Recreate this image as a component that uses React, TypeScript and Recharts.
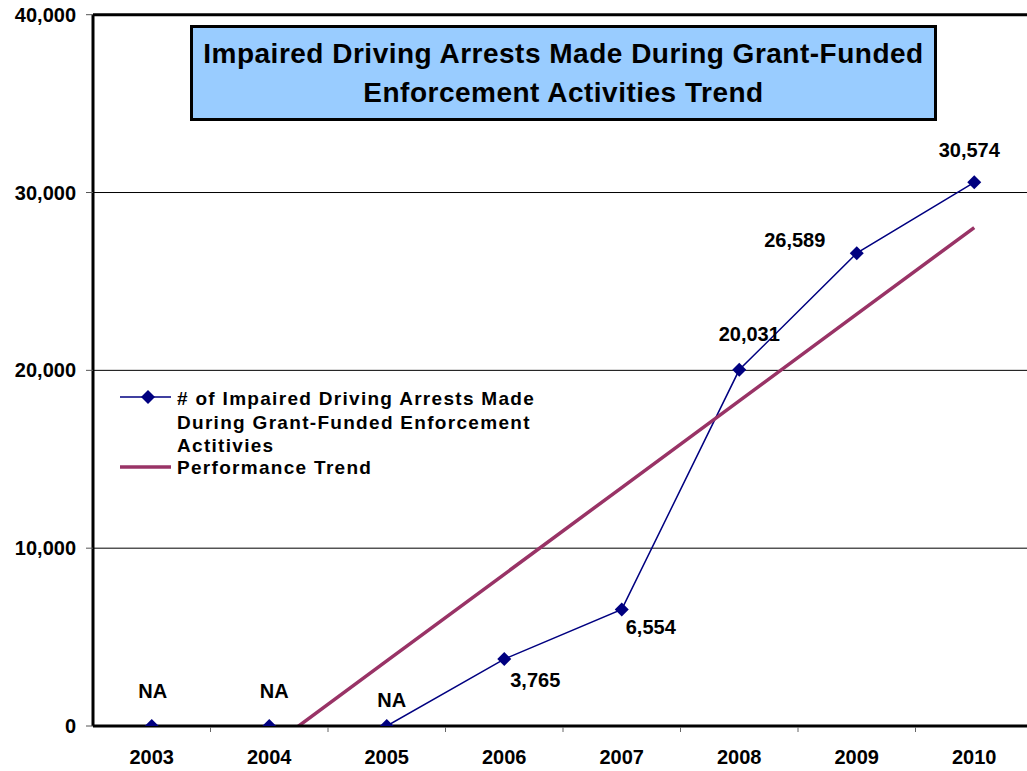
import {
  LineChart,
  Line,
  XAxis,
  YAxis,
  CartesianGrid,
  ReferenceLine,
  Legend,
  LabelList,
} from 'recharts';

const years = ['2003', '2004', '2005', '2006', '2007', '2008', '2009', '2010'];
const arrests = [0, 0, 0, 3765, 6554, 20031, 26589, 30574];
const reported = [false, false, false, true, true, true, true, true];
const trend = [-6100, -1220, 3660, 8530, 13410, 18280, 23160, 28030];
const yTicks = [0, 10000, 20000, 30000, 40000];

const titleLines = [
  'Impaired Driving Arrests Made During Grant-Funded',
  'Enforcement Activities Trend',
];
const arrestsName = [
  '# of Impaired Driving Arrests Made',
  'During Grant-Funded Enforcement',
  'Actitivies',
];
const trendName = 'Performance Trend';

// where each point label sits relative to its marker (text baseline)
const LABEL_OFFSETS = [
  { dx: 1, dy: -28 },
  { dx: 5, dy: -28 },
  { dx: 5, dy: -19 },
  { dx: 31, dy: 28 },
  { dx: 29, dy: 25 },
  { dx: 10, dy: -29 },
  { dx: -62, dy: -6 },
  { dx: -5, dy: -25 },
];

const FONT = '"Liberation Sans", Arial, sans-serif';
const NAVY = '#000080';
const PLUM = '#993366';
const HALF_BAND = 58.75;

const fmt = (n: number) => n.toLocaleString('en-US');

const data = years.map((year, i) => ({
  year,
  arrests: arrests[i],
  trend: trend[i],
  label: reported[i] ? fmt(arrests[i]) : 'NA',
}));

function Diamond(props: any) {
  const { cx, cy, index } = props;
  if (cx == null || cy == null) return null;
  const r = 7;
  return (
    <polygon
      key={`d-${index}`}
      points={`${cx},${cy - r} ${cx + r},${cy} ${cx},${cy + r} ${cx - r},${cy}`}
      fill={NAVY}
    />
  );
}

function PointLabel(props: any) {
  const { x, y, value, index } = props;
  const off = LABEL_OFFSETS[index] || { dx: 0, dy: -20 };
  return (
    <text
      x={x + off.dx}
      y={y + off.dy}
      textAnchor="middle"
      fontFamily={FONT}
      fontWeight="bold"
      fontSize={20}
      fill="#000"
    >
      {value}
    </text>
  );
}

function YearTick(props: any) {
  const { x, y, payload } = props;
  const left = x - HALF_BAND;
  return (
    <g>
      {payload.index > 0 && (
        <line x1={left} y1={y + 1} x2={left} y2={y + 6} stroke="#666" strokeWidth={1} />
      )}
      <text
        x={x}
        y={y + 38}
        textAnchor="middle"
        fontFamily={FONT}
        fontWeight="bold"
        fontSize={20}
        fill="#000"
      >
        {payload.value}
      </text>
    </g>
  );
}

function LegendBox() {
  return (
    <svg width={460} height={110} style={{ display: 'block' }}>
      <line x1={5} y1={17} x2={56} y2={17} stroke={NAVY} strokeWidth={1.5} />
      <polygon points="33,10 40,17 33,24 26,17" fill={NAVY} />
      {arrestsName.map((t, i) => (
        <text
          key={t}
          x={62}
          y={25 + i * 23.5}
          fontFamily={FONT}
          fontWeight="bold"
          fontSize={19}
          letterSpacing={1.3}
          fill="#000"
        >
          {t}
        </text>
      ))}
      <line x1={5} y1={87} x2={56} y2={87} stroke={PLUM} strokeWidth={3.5} />
      <text
        x={62}
        y={94}
        fontFamily={FONT}
        fontWeight="bold"
        fontSize={19}
        letterSpacing={1.3}
        fill="#000"
      >
        {trendName}
      </text>
    </svg>
  );
}

export default function App() {
  return (
    <div
      style={{
        position: 'absolute',
        left: 0,
        top: 0,
        width: 1027,
        height: 771,
        overflow: 'hidden',
        background: '#fff',
      }}
    >
      <LineChart
        width={1040}
        height={771}
        data={data}
        margin={{ top: 14.7, right: 7, bottom: 0, left: 0 }}
      >
        <CartesianGrid vertical={false} stroke="#000" strokeWidth={1} />
        <XAxis
          dataKey="year"
          height={45}
          padding={{ left: HALF_BAND, right: HALF_BAND }}
          axisLine={{ stroke: '#000', strokeWidth: 3 }}
          tickLine={false}
          tickSize={0}
          tickMargin={0}
          tick={<YearTick />}
          interval={0}
        />
        <YAxis
          width={93}
          domain={[0, 40000]}
          ticks={yTicks}
          allowDataOverflow
          tickFormatter={fmt}
          axisLine={{ stroke: '#000', strokeWidth: 3 }}
          tickLine={{ stroke: '#555' }}
          tickSize={7}
          tickMargin={10}
          tick={{ fill: '#000', fontFamily: FONT, fontWeight: 'bold', fontSize: 20 }}
        />
        <ReferenceLine y={40000} stroke="#000" strokeWidth={3} />
        <Legend
          layout="vertical"
          align="center"
          verticalAlign="middle"
          content={<LegendBox />}
          wrapperStyle={{ left: 115, top: 380, width: 460, height: 110 }}
        />
        <Line
          type="linear"
          dataKey="arrests"
          name={arrestsName.join(' ')}
          stroke={NAVY}
          strokeWidth={1.5}
          dot={<Diamond />}
          activeDot={false}
          isAnimationActive={false}
        >
          <LabelList dataKey="label" content={<PointLabel />} />
        </Line>
        <Line
          type="linear"
          dataKey="trend"
          name={trendName}
          stroke={PLUM}
          strokeWidth={3.5}
          dot={false}
          activeDot={false}
          isAnimationActive={false}
        />
      </LineChart>
      <div
        style={{
          position: 'absolute',
          left: 190,
          top: 25,
          width: 747,
          height: 96,
          boxSizing: 'border-box',
          border: '3px solid #000',
          background: '#99CCFF',
          display: 'flex',
          flexDirection: 'column',
          alignItems: 'center',
          justifyContent: 'center',
          fontFamily: FONT,
          fontWeight: 'bold',
          fontSize: 28,
          lineHeight: '39px',
          letterSpacing: 0.5,
          color: '#000',
        }}
      >
        {titleLines.map((t) => (
          <div key={t}>{t}</div>
        ))}
      </div>
    </div>
  );
}
